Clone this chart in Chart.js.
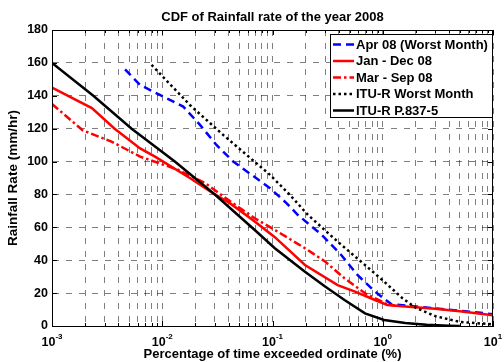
<!DOCTYPE html>
<html>
<head>
<meta charset="utf-8">
<script src="https://cdn.jsdelivr.net/npm/chart.js@4.4.1/dist/chart.umd.min.js"></script>
<style>
  html, body { margin: 0; padding: 0; background: #fff; }
  #wrap { width: 504px; height: 362px; }
</style>
</head>
<body>
<div id="wrap"><canvas id="cdf" width="504" height="362"></canvas></div>
<script>
const chartTitle = 'CDF of Rainfall rate of the year 2008'
const xTitle = 'Percentage of time exceeded ordinate (%)'
const yTitle = 'Rainfall Rate (mm/hr)'

// axis ticks
const decades = [0.001, 0.01, 0.1, 1, 10]
const minorSteps = [1, 2, 3, 4, 5, 6, 7, 8, 9]
const yMin = 0
const yMax = 180
const yStep = 20

// Apr 08 (worst month)
const aprPct = [0.0046, 0.0063, 0.0095, 0.0155, 0.022, 0.031, 0.044, 0.095, 0.1345, 0.17, 0.28, 0.42, 0.59, 0.85, 1.2, 2, 5, 10]
const aprRate = [156, 146.6, 140.5, 133.4, 122.3, 110.1, 100, 83.8, 74.6, 67.5, 55.4, 43.2, 31, 20.9, 13.2, 11.8, 9.3, 7.2]

// Jan - Dec 08
const yearPct = [0.001, 0.0023, 0.0037, 0.0063, 0.0086, 0.0178, 0.03, 0.041, 0.069, 0.105, 0.197, 0.39, 0.56, 0.85, 1.1, 1.6, 3, 5, 10]
const yearRate = [145, 132.5, 120, 108, 103, 90, 80, 74.7, 63.5, 54, 37.1, 24.9, 20.9, 15.8, 12.8, 11.8, 10.5, 9, 6.5]

// Mar - Sep 08
const marSepPct = [0.001, 0.0019, 0.0035, 0.0063, 0.0139, 0.0244, 0.041, 0.069, 0.105, 0.197, 0.3, 0.45, 0.69, 1.1, 1.3]
const marSepRate = [135, 119, 112, 103, 95, 87, 76, 65.5, 58.4, 47.3, 39.2, 29, 19.9, 13.2, 12.4]

// ITU-R worst month
const ituWorstPct = [0.008, 0.0178, 0.0357, 0.095, 0.144, 0.21, 0.39, 0.69, 1.03, 1.5, 2, 3, 5, 10]
const ituWorstRate = [158.8, 134.4, 116.2, 91.9, 79.7, 67.5, 51.3, 37.1, 27, 17, 11, 6, 2.5, 1]

// ITU-R P.837-5
const ituPct = [0.001, 0.00237, 0.00528, 0.013, 0.03, 0.069, 0.105, 0.197, 0.3, 0.45, 0.69, 1.03, 1.6, 2.5, 4, 5]
const ituRate = [160, 140, 120, 100, 80, 58.4, 47.3, 33, 24, 15.8, 7.7, 3.7, 1.8, 0.7, 0.2, 0]

const FONT = "'Liberation Sans', Arial, Helvetica, sans-serif"

function toPoints(xs, ys) {
  return xs.map((x, i) => ({ x: x, y: ys[i] }))
}

// grid positions at 1..9 of every decade
const gridValues = []
decades.slice(0, -1).forEach(d => minorSteps.forEach(k => gridValues.push(+(k * d).toPrecision(3))))
gridValues.push(decades[decades.length - 1])

const series = [
  { label: 'Apr 08 (Worst Month)', xs: aprPct, ys: aprRate, color: '#0000ff', dash: [8, 5] },
  { label: 'Jan - Dec 08', xs: yearPct, ys: yearRate, color: '#ff0000', dash: [] },
  { label: 'Mar - Sep 08', xs: marSepPct, ys: marSepRate, color: '#ff0000', dash: [8, 3, 2.5, 3] },
  { label: 'ITU-R Worst Month', xs: ituWorstPct, ys: ituWorstRate, color: '#000000', dash: [2.5, 3] },
  { label: 'ITU-R P.837-5', xs: ituPct, ys: ituRate, color: '#000000', dash: [] }
]

// matlab like frame: title, box, inward ticks, legend, 10^n labels
const matlabLook = {
  id: 'matlabLook',
  afterDraw(chart) {
    const ctx = chart.ctx
    const area = chart.chartArea
    const xs = chart.scales.x
    const ys = chart.scales.y
    ctx.save()

    // box
    ctx.strokeStyle = '#000'
    ctx.lineWidth = 1
    ctx.setLineDash([])
    ctx.strokeRect(area.left + 0.5, area.top + 0.5, area.right - area.left - 1, area.bottom - area.top)

    // inward ticks
    ctx.beginPath()
    xs.ticks.forEach(t => {
      const px = Math.round(xs.getPixelForValue(t.value)) + 0.5
      const len = decades.includes(t.value) ? 5 : 3
      ctx.moveTo(px, area.bottom); ctx.lineTo(px, area.bottom - len)
      ctx.moveTo(px, area.top); ctx.lineTo(px, area.top + len)
    })
    ys.ticks.forEach(t => {
      const py = Math.round(ys.getPixelForValue(t.value)) + 0.5
      ctx.moveTo(area.left, py); ctx.lineTo(area.left + 5, py)
      ctx.moveTo(area.right, py); ctx.lineTo(area.right - 5, py)
    })
    ctx.stroke()

    // title
    ctx.fillStyle = '#000'
    ctx.font = 'bold 13px ' + FONT
    ctx.textAlign = 'center'
    ctx.textBaseline = 'alphabetic'
    ctx.fillText(chartTitle, (area.left + area.right) / 2, 21)

    // x tick labels 10^n
    decades.forEach(v => {
      const px = xs.getPixelForValue(v)
      const exp = String(Math.round(Math.log10(v)))
      ctx.font = 'bold 12.5px ' + FONT
      const wBase = ctx.measureText('10').width
      ctx.font = 'bold 8px ' + FONT
      const wExp = ctx.measureText(exp).width
      const x0 = px - (wBase + wExp) / 2
      ctx.textAlign = 'left'
      ctx.font = 'bold 12.5px ' + FONT
      ctx.fillText('10', x0, 346)
      ctx.font = 'bold 8px ' + FONT
      ctx.fillText(exp, x0 + wBase, 339)
    })

    // legend
    const lx = 330, ly = 34, lw = 162, lh = 83
    ctx.fillStyle = '#fff'
    ctx.fillRect(lx, ly, lw, lh)
    ctx.strokeStyle = '#000'
    ctx.lineWidth = 1
    ctx.strokeRect(lx + 0.5, ly + 0.5, lw, lh)
    chart.data.datasets.forEach((ds, i) => {
      const y = ly + 10.5 + i * 16.5
      ctx.beginPath()
      ctx.strokeStyle = ds.borderColor
      ctx.lineWidth = ds.borderWidth
      ctx.setLineDash(ds.borderDash)
      ctx.moveTo(lx + 3, y)
      ctx.lineTo(lx + 24, y)
      ctx.stroke()
      ctx.setLineDash([])
      ctx.fillStyle = '#000'
      ctx.font = 'bold 13px ' + FONT
      ctx.textAlign = 'left'
      ctx.textBaseline = 'middle'
      ctx.fillText(ds.label, lx + 26, y + 0.5)
    })
    ctx.restore()
  }
}

const ctx = document.getElementById('cdf').getContext('2d')
const chart = new Chart(ctx, {
  type: 'line',
  data: {
    datasets: series.map((s, i) => ({
      label: s.label,
      data: toPoints(s.xs, s.ys),
      borderColor: s.color,
      backgroundColor: s.color,
      borderWidth: 2.5,
      borderDash: s.dash,
      borderCapStyle: 'butt',
      pointRadius: 0,
      tension: 0,
      fill: false,
      order: series.length - i
    }))
  },
  options: {
    responsive: false,
    animation: false,
    devicePixelRatio: 1,
    layout: { padding: { top: 30, right: 11, left: 0, bottom: 0 } },
    plugins: {
      legend: { display: false },
      title: { display: false },
      tooltip: { enabled: false }
    },
    scales: {
      x: {
        type: 'logarithmic',
        min: decades[0],
        max: decades[decades.length - 1],
        afterBuildTicks: scale => {
          scale.ticks = gridValues.map(v => ({ value: v }))
        },
        afterFit: scale => { scale.height = 36 },
        ticks: { display: false, autoSkip: false },
        grid: {
          color: 'rgba(0, 0, 0, 0.5)',
          lineWidth: 1,
          drawTicks: false
        },
        border: { display: true, color: '#000', dash: [6, 7] },
        title: {
          display: true,
          text: xTitle,
          color: '#000',
          font: { family: FONT, size: 13, weight: 'bold' },
          padding: { top: 0, bottom: 0 }
        }
      },
      y: {
        min: yMin,
        max: yMax,
        afterFit: scale => { scale.width = 52 },
        ticks: {
          stepSize: yStep,
          color: '#000',
          padding: 4,
          font: { family: FONT, size: 12.5, weight: 'bold' }
        },
        grid: {
          color: 'rgba(0, 0, 0, 0.5)',
          lineWidth: 1,
          drawTicks: false
        },
        border: { display: true, color: '#000', dash: [6, 7] },
        title: {
          display: true,
          text: yTitle,
          color: '#000',
          font: { family: FONT, size: 13.5, weight: 'bold' },
          padding: { top: 5, bottom: 0 }
        }
      }
    }
  },
  plugins: [matlabLook]
})
</script>
</body>
</html>
